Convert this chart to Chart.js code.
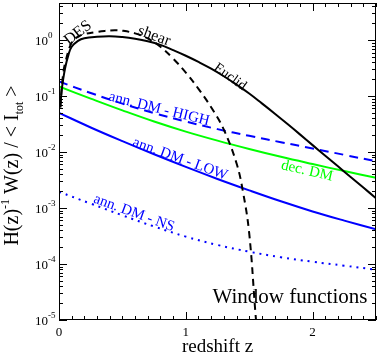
<!DOCTYPE html>
<html>
<head>
<meta charset="utf-8">
<script src="https://cdn.jsdelivr.net/npm/chart.js@4.4.1/dist/chart.umd.min.js"></script>
<style>
  html, body { margin: 0; padding: 0; background: #fff; }
  #wrap { width: 379px; height: 353px; }
</style>
</head>
<body>
<div id="wrap"><canvas id="chart"></canvas></div>
<script>
// redshift grids and window function values
const zEuclid = [0.01, 0.02, 0.03, 0.05, 0.075, 0.1, 0.15, 0.2, 0.3, 0.4, 0.5, 0.6, 0.7, 0.8, 0.9, 1.0, 1.1, 1.2, 1.3, 1.4, 1.5, 1.6, 1.7, 1.8, 1.9, 2.0, 2.1, 2.2, 2.3, 2.4, 2.5];
const wEuclid = [0.063, 0.12, 0.18, 0.33, 0.55, 0.76, 0.97, 1.08, 1.15, 1.175, 1.135, 1.059, 0.955, 0.822, 0.661, 0.525, 0.407, 0.309, 0.226, 0.16, 0.111, 0.0741, 0.049, 0.032, 0.0207, 0.0133, 0.0086, 0.00556, 0.00359, 0.00232, 0.0015];

const zDES = [0.01, 0.03, 0.05, 0.1, 0.15, 0.2, 0.28, 0.36, 0.44, 0.5, 0.6, 0.7, 0.8, 0.9, 1.0, 1.1, 1.2, 1.3, 1.4, 1.45, 1.5, 1.55, 1.57];
const wDES = [0.063, 0.22, 0.4, 0.9, 1.15, 1.28, 1.38, 1.46, 1.5, 1.47, 1.318, 1.072, 0.759, 0.468, 0.263, 0.135, 0.063, 0.0251, 0.0063, 0.002, 0.000355, 0.0000126, 0.000004];

const zGrid = [0, 0.25, 0.5, 0.75, 1.0, 1.25, 1.5, 1.75, 2.0, 2.25, 2.5];
const wHigh = [0.182, 0.1135, 0.0733, 0.0495, 0.0351, 0.0257, 0.0195, 0.015, 0.0116, 0.00891, 0.00684];
const wDec = [0.148, 0.0902, 0.0556, 0.0351, 0.0232, 0.016, 0.01135, 0.00822, 0.0061, 0.00457, 0.00347];
const wLow = [0.0501, 0.0275, 0.01567, 0.00912, 0.00543, 0.00331, 0.00207, 0.00132, 0.00087, 0.000596, 0.000417];
const wNS = [0.00195, 0.0012, 0.000741, 0.000468, 0.000309, 0.000219, 0.000166, 0.000132, 0.00011, 0.0000933, 0.0000794];

const xTicks = [0, 1, 2];
const yDecades = [-5, -4, -3, -2, -1, 0];

const FONT = "'Liberation Serif', 'DejaVu Serif', serif";

const pts = (zs, ws) => zs.map((z, i) => ({ x: z, y: ws[i] }));

function line(data, color, dash) {
  return {
    data: data,
    borderColor: color,
    borderWidth: 2,
    borderDash: dash,
    pointRadius: 0,
    fill: false,
    tension: 0.4
  };
}

// frame, inward ticks, tick labels, titles and curve labels
const decorations = {
  id: 'decorations',
  afterDraw(chart) {
    const ctx = chart.ctx;
    const a = chart.chartArea;
    const xs = chart.scales.x, ys = chart.scales.y;
    ctx.save();
    ctx.strokeStyle = '#000';
    ctx.lineWidth = 1;
    ctx.strokeRect(a.left + 0.5, a.top + 0.5, a.right - a.left - 1, a.bottom - a.top - 1);

    ctx.beginPath();
    for (let i = 0; i <= 25; i++) {
      const v = i / 10;
      const px = Math.round(xs.getPixelForValue(v)) + 0.5;
      const len = (i % 10 === 0) ? 8 : 4;
      ctx.moveTo(px, a.bottom); ctx.lineTo(px, a.bottom - len);
      ctx.moveTo(px, a.top); ctx.lineTo(px, a.top + len);
    }
    yDecades.forEach(n => {
      for (let m = 1; m <= 9; m++) {
        const v = m * Math.pow(10, n);
        if (v > ys.max) break;
        const py = Math.round(ys.getPixelForValue(v)) + 0.5;
        const len = m === 1 ? 8 : 4;
        ctx.moveTo(a.left, py); ctx.lineTo(a.left + len, py);
        ctx.moveTo(a.right, py); ctx.lineTo(a.right - len, py);
      }
    });
    ctx.stroke();

    ctx.fillStyle = '#000';
    ctx.font = '13px ' + FONT;
    ctx.textAlign = 'center';
    ctx.textBaseline = 'alphabetic';
    xTicks.forEach(v => {
      ctx.fillText(String(v), xs.getPixelForValue(v), 336);
    });

    yDecades.forEach(n => {
      const py = ys.getPixelForValue(Math.pow(10, n));
      ctx.font = '13px ' + FONT;
      ctx.textAlign = 'right';
      ctx.fillText('10', 48, py + 5);
      ctx.font = '9px ' + FONT;
      ctx.textAlign = 'left';
      ctx.fillText(n === 0 ? '0' : '-' + Math.abs(n), 48, py - 2);
    });

    ctx.font = '19px ' + FONT;
    ctx.textAlign = 'center';
    ctx.fillText('redshift z', (a.left + a.right) / 2, 352);

    // y axis title with super/subscripts
    const parts = [
      { t: 'H(z)', s: 20, dy: 0 },
      { t: '-1', s: 12, dy: -9 },
      { t: ' W(z) / < I', s: 20, dy: 0 },
      { t: 'tot', s: 12, dy: 5 },
      { t: ' >', s: 20, dy: 0 }
    ];
    let total = 0;
    parts.forEach(p => { ctx.font = p.s + 'px ' + FONT; p.w = ctx.measureText(p.t).width; total += p.w; });
    ctx.save();
    ctx.translate(18, (a.top + a.bottom) / 2 + 4);
    ctx.rotate(-Math.PI / 2);
    ctx.textAlign = 'left';
    let cx = -total / 2;
    parts.forEach(p => {
      ctx.font = p.s + 'px ' + FONT;
      ctx.fillText(p.t, cx, p.dy);
      cx += p.w;
    });
    ctx.restore();

    const labels = [
      { t: 'DES', x: 78, y: 33, r: -38, c: '#000', s: 16 },
      { t: 'shear', x: 154, y: 36, r: 20, c: '#000', s: 16 },
      { t: 'Euclid', x: 230, y: 77, r: 36, c: '#000', s: 14 },
      { t: 'ann. DM - HIGH', x: 159, y: 109, r: 14, c: '#0000ff', s: 15 },
      { t: 'ann. DM - LOW', x: 180, y: 159, r: 20, c: '#0000ff', s: 15 },
      { t: 'ann. DM - NS', x: 134, y: 213, r: 20, c: '#0000ff', s: 15 },
      { t: 'dec. DM', x: 307, y: 171, r: 13, c: '#00ff00', s: 15 }
    ];
    ctx.textBaseline = 'middle';
    ctx.textAlign = 'center';
    labels.forEach(l => {
      ctx.save();
      ctx.translate(l.x, l.y);
      ctx.rotate(l.r * Math.PI / 180);
      ctx.fillStyle = l.c;
      ctx.font = l.s + 'px ' + FONT;
      ctx.fillText(l.t, 0, 0);
      ctx.restore();
    });

    ctx.fillStyle = '#000';
    ctx.font = '21px ' + FONT;
    ctx.fillText('Window functions', 290, 297);
    ctx.restore();
  }
};

new Chart(document.getElementById('chart'), {
  type: 'line',
  data: {
    datasets: [
      line(pts(zEuclid, wEuclid), '#000000', []),
      line(pts(zDES, wDES), '#000000', [7, 5]),
      line(pts(zGrid, wHigh), '#0000ff', [9, 6]),
      line(pts(zGrid, wDec), '#00ff00', []),
      line(pts(zGrid, wLow), '#0000ff', []),
      line(pts(zGrid, wNS), '#0000ff', [2, 5])
    ]
  },
  options: {
    responsive: true,
    maintainAspectRatio: false,
    animation: false,
    layout: { padding: { top: 3, right: 3, left: 0, bottom: 0 } },
    plugins: {
      legend: { display: false },
      tooltip: { enabled: false }
    },
    scales: {
      x: {
        type: 'linear',
        min: 0,
        max: 2.5,
        grid: { display: false },
        border: { display: false },
        ticks: { display: false },
        afterFit: s => { s.height = 33; }
      },
      y: {
        type: 'logarithmic',
        min: 1e-5,
        max: 4.6,
        grid: { display: false },
        border: { display: false },
        ticks: { display: false },
        afterFit: s => { s.width = 59; }
      }
    }
  },
  plugins: [decorations]
});
</script>
</body>
</html>
